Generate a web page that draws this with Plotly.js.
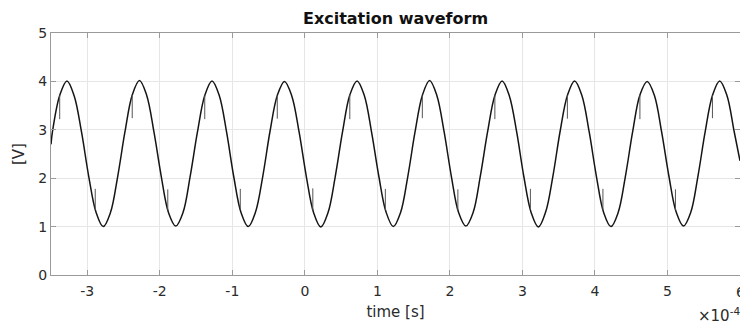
<!DOCTYPE html>
<html>
<head>
<meta charset="utf-8">
<script src="https://cdn.plot.ly/plotly-3.0.1.min.js"></script>
<style>html,body{margin:0;padding:0;background:#fff;}#chart{width:740px;height:327px;}</style>
</head>
<body>
<div id="chart"></div>
<script>
// time in units of 1e-4 s
const timeE4 = [
  -3.5, -3.48, -3.38, -3.28, -3.18, -3.08, -2.98, -2.88, -2.78, -2.68, -2.58,
  -2.48, -2.38, -2.28, -2.18, -2.08, -1.98, -1.88, -1.78, -1.68, -1.58,
  -1.48, -1.38, -1.28, -1.18, -1.08, -0.98, -0.88, -0.78, -0.68, -0.58,
  -0.48, -0.38, -0.28, -0.18, -0.08, 0.02, 0.12, 0.22, 0.32, 0.42,
  0.52, 0.62, 0.72, 0.82, 0.92, 1.02, 1.12, 1.22, 1.32, 1.42,
  1.52, 1.62, 1.72, 1.82, 1.92, 2.02, 2.12, 2.22, 2.32, 2.42,
  2.52, 2.62, 2.72, 2.82, 2.92, 3.02, 3.12, 3.22, 3.32, 3.42,
  3.52, 3.62, 3.72, 3.82, 3.92, 4.02, 4.12, 4.22, 4.32, 4.42,
  4.52, 4.62, 4.72, 4.82, 4.92, 5.02, 5.12, 5.22, 5.32, 5.42,
  5.52, 5.62, 5.72, 5.82, 5.92, 6.0
];
const voltage = [
  2.70, 2.96, 3.71, 4.01, 3.70, 2.96, 2.04, 1.30, 1.00, 1.29, 2.04,
  2.96, 3.72, 4.02, 3.71, 2.95, 2.04, 1.29, 1.01, 1.29, 2.05,
  2.96, 3.71, 4.01, 3.71, 2.96, 2.03, 1.29, 1.00, 1.30, 2.04,
  2.97, 3.71, 4.00, 3.70, 2.96, 2.04, 1.29, 0.99, 1.29, 2.04,
  2.96, 3.72, 4.01, 3.71, 2.95, 2.04, 1.30, 1.00, 1.29, 2.04,
  2.96, 3.71, 4.02, 3.71, 2.96, 2.04, 1.29, 1.01, 1.29, 2.05,
  2.96, 3.71, 4.01, 3.70, 2.96, 2.03, 1.29, 0.99, 1.30, 2.04,
  2.97, 3.71, 4.01, 3.71, 2.96, 2.04, 1.29, 1.00, 1.29, 2.04,
  2.96, 3.72, 4.00, 3.71, 2.95, 2.04, 1.30, 1.01, 1.29, 2.04,
  2.96, 3.71, 4.01, 3.71, 2.96, 2.36
];
// switching glitches: time (1e-4 s), value on the curve, tip of the spike
const glitchTimeE4 = [-3.38, -2.89, -2.38, -1.89, -1.38, -0.89, -0.38, 0.11, 0.62, 1.11,
                      1.62, 2.11, 2.62, 3.11, 3.62, 4.11, 4.62, 5.11, 5.62];
const glitchBase = [3.71, 1.34, 3.72, 1.34, 3.71, 1.35, 3.71, 1.34, 3.72, 1.34,
                    3.71, 1.34, 3.71, 1.35, 3.71, 1.34, 3.72, 1.34, 3.71];
const glitchTip  = [3.22, 1.78, 3.24, 1.77, 3.22, 1.78, 3.23, 1.79, 3.22, 1.78,
                    3.24, 1.77, 3.22, 1.78, 3.23, 1.78, 3.22, 1.77, 3.24];
const xTicks = [-3, -2, -1, 0, 1, 2, 3, 4, 5, 6];
const yTicks = [0, 1, 2, 3, 4, 5];

const SCALE = 1e-4;
const gx = [], gy = [];
glitchTimeE4.forEach((t, i) => {
  gx.push(t * SCALE, t * SCALE, null);
  gy.push(glitchBase[i], glitchTip[i], null);
});

const font = "'DejaVu Sans', 'Liberation Sans', Arial, sans-serif";
const textColor = '#2b2b2b';
const traces = [
  {x: timeE4.map(t => t * SCALE), y: voltage, mode: 'lines', type: 'scatter',
   line: {color: '#151515', width: 1.5, shape: 'spline', smoothing: 1}, hoverinfo: 'skip'},
  {x: gx, y: gy, mode: 'lines', type: 'scatter',
   line: {color: '#555555', width: 1}, hoverinfo: 'skip', connectgaps: false}
];
const axisCommon = {
  showline: true, linecolor: '#9a9a9a', linewidth: 1, mirror: 'ticks',
  ticks: 'inside', ticklen: 5, tickcolor: '#9a9a9a', tickwidth: 1,
  showgrid: true, gridcolor: '#e6e6e6', gridwidth: 1, zeroline: false,
  tickfont: {family: font, size: 14, color: textColor}
};
const lastTick = xTicks[xTicks.length - 1];
const layout = {
  width: 740, height: 327,
  margin: {l: 51, r: 0, t: 33, b: 52},
  paper_bgcolor: '#ffffff', plot_bgcolor: '#ffffff',
  showlegend: false,
  title: {text: '<b>Excitation waveform</b>', x: 0.5345, xanchor: 'center', y: 0.945, yanchor: 'middle',
          font: {family: font, size: 16, color: '#111'}},
  xaxis: Object.assign({}, axisCommon, {
    range: [-3.5 * SCALE, 6 * SCALE],
    tickmode: 'array', tickvals: xTicks.map(v => v * SCALE), ticktext: xTicks.map(String),
    ticklabelstandoff: 3,
    title: {text: 'time [s]', font: {family: font, size: 15, color: textColor}, standoff: 8}
  }),
  yaxis: Object.assign({}, axisCommon, {
    range: [0, 5], tickmode: 'array', tickvals: yTicks, ticktext: yTicks.map(String),
    title: {text: '[V]', font: {family: font, size: 15, color: textColor}, standoff: 10}
  }),
  annotations: [
    {
      text: String(lastTick), xref: 'x', yref: 'paper', x: lastTick * SCALE, y: -0.07,
      xanchor: 'center', yanchor: 'middle', showarrow: false,
      font: {family: font, size: 14, color: textColor}
    },
    {
      text: '×10<sup>-4</sup>', xref: 'paper', yref: 'paper', x: 1.003, y: -0.165,
      xanchor: 'right', yanchor: 'middle', showarrow: false,
      font: {family: font, size: 15, color: textColor}
    }
  ]
};
Plotly.newPlot('chart', traces, layout, {displayModeBar: false, staticPlot: true});
</script>
</body>
</html>
